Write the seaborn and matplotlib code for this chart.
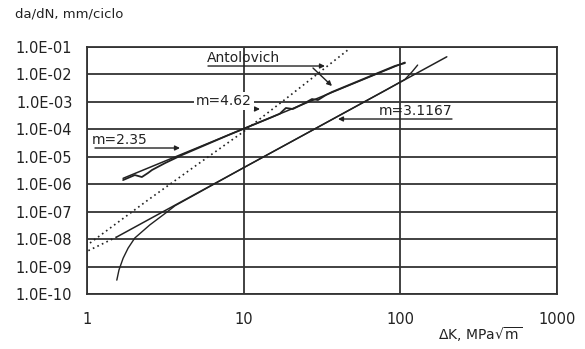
import matplotlib
matplotlib.use("Agg")
import matplotlib.pyplot as plt
import seaborn as sns
import pandas as pd

# ---------------- data ----------------
# upper experimental curve (wiggly), fitted with m = 2.35
upper_K = [1.70, 2.02, 2.24, 2.45, 2.60, 3.15, 4.04, 8.0, 15.0, 17.0, 18.6, 20.6,
           24.6, 27.3, 29.8, 33.5, 36.6, 71.9, 92.4, 107.0]
upper_rate = [1.42e-6, 2.16e-6, 1.83e-6, 2.56e-6, 3.3e-6, 5.9e-6, 1.16e-5, 6.2e-5,
              2.73e-4, 3.7e-4, 6.0e-4, 5.5e-4, 9.1e-4, 1.27e-3, 1.17e-3, 1.78e-3,
              2.29e-3, 1.13e-2, 2.04e-2, 2.6e-2]

# lower experimental curve, fitted with m = 3.1167
lower_K = [1.55, 1.60, 1.70, 1.83, 2.02, 2.52, 3.24, 3.65, 10.0, 30.0, 80.0, 107.0,
           118.6, 129.0]
lower_rate = [3.2e-10, 7.5e-10, 2.0e-9, 4.7e-9, 1.1e-8, 3.3e-8, 9.7e-8, 1.65e-7,
              4.0e-6, 1.22e-4, 2.6e-3, 6.6e-3, 1.23e-2, 2.2e-2]

# Antolovich model (dotted)
antol_K = [1.045, 2.449, 5.012, 9.886, 19.95, 31.62, 47.64]
antol_rate = [7.2e-9, 2.65e-7, 5.0e-6, 7.9e-5, 1.78e-3, 1.41e-2, 8.9e-2]

# straight-line fits (end points)
fit_upper_K = [1.7, 107.0]
fit_upper_rate = [1.64e-6, 2.76e-2]
fit_lower_K = [1.55, 198.0]
fit_lower_rate = [1.2e-8, 4.4e-2]
fit_lower_ext_K = [1.02, 1.55]
fit_lower_ext_rate = [3.8e-9, 1.2e-8]

x_ticks = [1, 10, 100, 1000]
x_tick_labels = ["1", "10", "100", "1000"]
y_ticks = [1e-1, 1e-2, 1e-3, 1e-4, 1e-5, 1e-6, 1e-7, 1e-8, 1e-9, 1e-10]
y_tick_labels = ["1.0E-01", "1.0E-02", "1.0E-03", "1.0E-04", "1.0E-05",
                 "1.0E-06", "1.0E-07", "1.0E-08", "1.0E-09", "1.0E-10"]

# ---------------- figure ----------------
sns.set_style("white")
plt.rcParams["font.family"] = ["DejaVu Sans"]
plt.rcParams["mathtext.fontset"] = "dejavusans"

INK = "#222222"
GRID = "#333333"

fig = plt.figure(figsize=(5.85, 3.49), dpi=100)
ax = fig.add_axes([0.1487, 0.1576, 0.9521 - 0.1487, 0.8653 - 0.1576])
ax.set_xscale("log")
ax.set_yscale("log")


def draw(K, rate, **kw):
    df = pd.DataFrame({"K": K, "rate": rate})
    sns.lineplot(data=df, x="K", y="rate", ax=ax, sort=False, estimator=None,
                 color=INK, **kw)


draw(fit_upper_K, fit_upper_rate, lw=1.1)
draw(upper_K, upper_rate, lw=1.3)
draw(fit_lower_K, fit_lower_rate, lw=1.1)
draw(fit_lower_ext_K, fit_lower_ext_rate, lw=1.2, linestyle=(0, (1, 2)))
draw(lower_K, lower_rate, lw=1.0)
draw(antol_K, antol_rate, lw=1.2, linestyle=(0, (1, 2)))

ax.set_xlim(1, 1000)
ax.set_ylim(1e-10, 1e-1)
ax.set_xticks(x_ticks)
ax.set_xticklabels(x_tick_labels)
ax.set_yticks(y_ticks)
ax.set_yticklabels(y_tick_labels)
ax.minorticks_off()
ax.tick_params(axis="y", length=0, pad=10.5, labelsize=10.5, colors=INK)
ax.tick_params(axis="x", length=0, pad=13, labelsize=10.5, colors=INK)
ax.grid(True, which="major", color=GRID, lw=1.3)
ax.set_axisbelow(True)
for s in ax.spines.values():
    s.set_visible(True)
    s.set_color(GRID)
    s.set_linewidth(1.3)
ax.set_xlabel("")
ax.set_ylabel("")

fig.text(15 / 585, 1 - 14 / 349, "da/dN, mm/ciclo", ha="left", va="center",
         fontsize=9.5, color=INK)
fig.text(480 / 585, 1 - 335 / 349, r"$\Delta$K, MPa$\sqrt{\mathregular{m}}$",
         ha="center", va="center", fontsize=10, color=INK)

# annotations (positions in pixel -> axes fraction)
X0, X1, Y0, Y1 = 87, 557, 47, 294


def af(px, py):
    return ((px - X0) / (X1 - X0), 1 - (py - Y0) / (Y1 - Y0))


def arrow(p0, p1):
    ax.annotate("", xy=af(*p1), xycoords="axes fraction", xytext=af(*p0),
                textcoords="axes fraction",
                arrowprops=dict(arrowstyle="-|>", lw=1.0, color=INK,
                                shrinkA=0, shrinkB=0, mutation_scale=7))


def label(px, py, s, bg=False):
    kw = {}
    if bg:
        kw["bbox"] = dict(facecolor="white", edgecolor="none", pad=1.5)
    ax.text(*af(px, py), s, transform=ax.transAxes, ha="left", va="center",
            fontsize=10, color=INK, zorder=4, **kw)


label(207, 58, "Antolovich")
arrow((208, 66), (325, 66))
arrow((313, 68), (332, 86))

label(196, 101, "m=4.62", bg=True)
arrow((198, 109), (260, 109))

label(92, 140, "m=2.35")
arrow((95, 148), (180, 148))

label(379, 110.5, "m=3.1167")
arrow((452, 119), (338, 119))

fig.savefig("out.png", dpi=100, facecolor="white")
